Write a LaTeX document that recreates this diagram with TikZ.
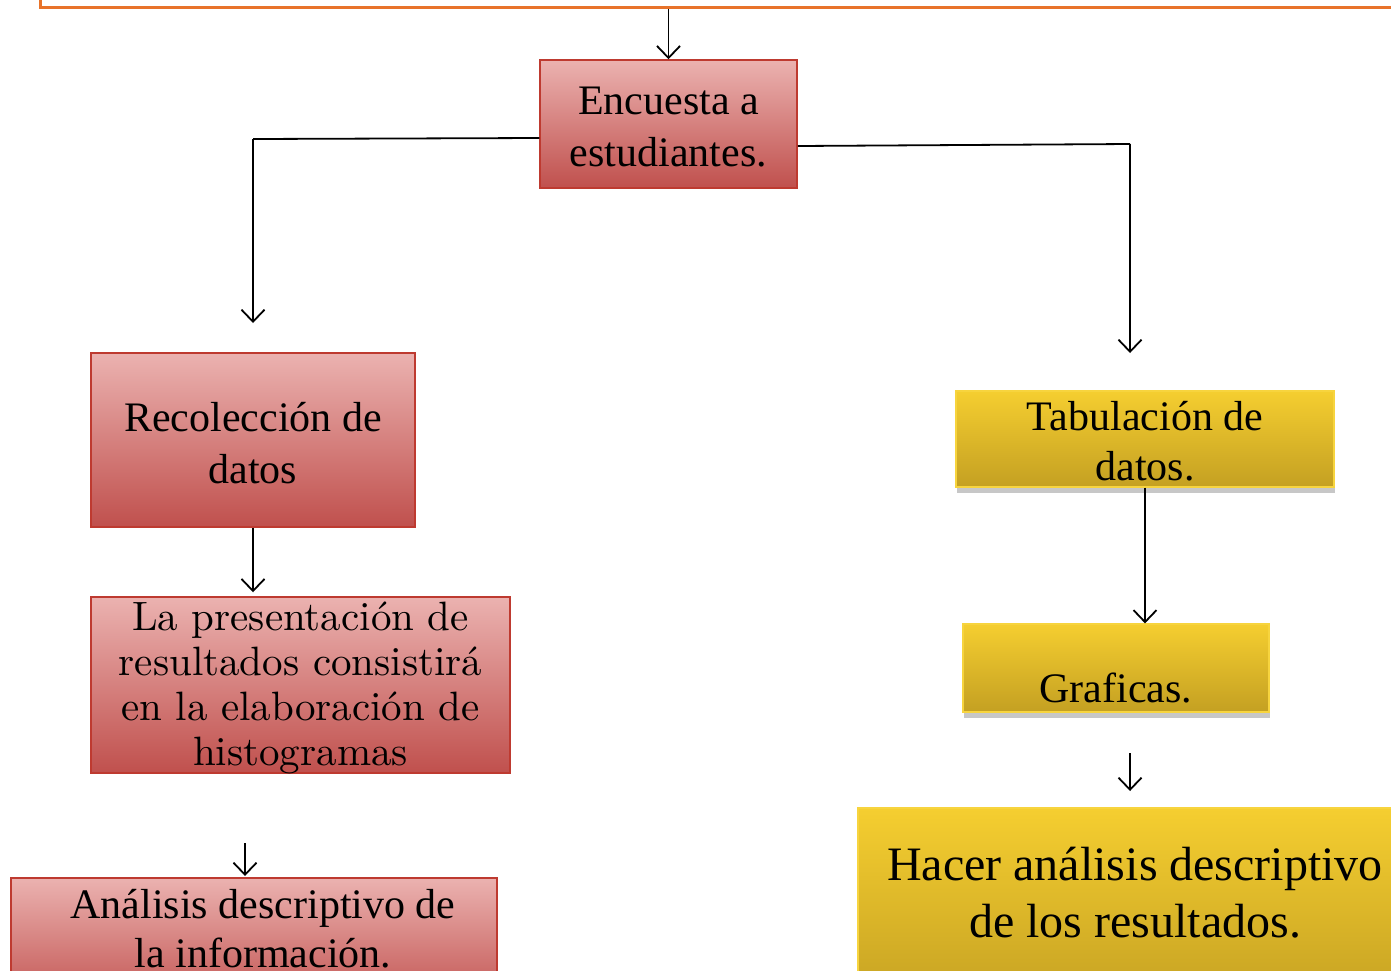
\documentclass[tikz,border=0pt]{standalone}
\usepackage{fontspec}
\newfontfamily\tnr{Liberation Serif}
\newfontfamily\lmten{lmroman10-regular.otf}
\usetikzlibrary{arrows.meta,shadows,calc}
\definecolor{redtop}{RGB}{235,178,176}
\definecolor{redbot}{RGB}{192,80,77}
\definecolor{redline}{RGB}{190,58,48}
\definecolor{goldtop}{RGB}{245,206,48}
\definecolor{goldbot}{RGB}{196,160,34}
\definecolor{goldline}{RGB}{247,212,62}
\definecolor{orangeline}{RGB}{232,115,42}
\tikzset{
  redbox/.style={rectangle, draw=redline, line width=1.5pt, top color=redtop, bottom color=redbot, inner sep=0pt},
  goldbox/.style={rectangle, draw=goldline, line width=1.2pt, top color=goldtop, bottom color=goldbot, inner sep=0pt,
     drop shadow={shadow xshift=1pt, shadow yshift=-6pt, fill=black, opacity=0.22}},
  txt/.style={align=center, inner sep=0pt, text=black},
  conn/.style={line width=1.8pt, -{Straight Barb[length=12pt,width=23pt]}},
  plain/.style={line width=1.8pt}
}
\begin{document}
\begin{tikzpicture}[x=1pt,y=-1pt]
\useasboundingbox (0,0) rectangle (1391,970);
\clip (0,0) rectangle (1391,970);
\fill[white] (0,0) rectangle (1391,970);
% boxes
\node[rectangle, draw=orangeline, line width=3pt, minimum width=1400pt, minimum height=80pt, inner sep=0pt] (top) at (740,-33) {};
\node[redbox, minimum width=257pt, minimum height=128pt] (enc) at (668.5,124) {};
\node[redbox, minimum width=324pt, minimum height=174pt] (rec) at (253,440) {};
\node[redbox, minimum width=419pt, minimum height=176pt] (pres) at (300.5,685) {};
\node[redbox, minimum width=486pt, minimum height=130pt] (ana) at (254,943) {};
\node[goldbox, minimum width=378pt, minimum height=96pt] (tab) at (1145,439) {};
\node[goldbox, minimum width=306pt, minimum height=88pt] (gra) at (1116,668) {};
\node[goldbox, minimum width=562pt, minimum height=200pt] (hac) at (1139,908) {};
% texts
\node[txt, font=\tnr\fontsize{42}{52}\selectfont] (encT) at (668.5,127) {Encuesta a\\estudiantes.};
\node[txt, font=\tnr\fontsize{42}{52}\selectfont] (recT) at (253,443) {Recolección de\\datos};
\node[txt, font=\lmten\fontsize{41}{45}\selectfont] (presT) at (300.5,688) {La presentación de\\resultados consistirá\\en la elaboración de\\histogramas};
\node[txt, font=\tnr\fontsize{42}{49}\selectfont] (anaT) at (263,929) {Análisis descriptivo de\\la información.};
\node[txt, font=\tnr\fontsize{42}{50}\selectfont] (tabT) at (1145,441) {Tabulación de\\datos.};
\node[txt, font=\tnr\fontsize{42}{50}\selectfont] (graT) at (1116,688) {Graficas.};
\node[txt, font=\tnr\fontsize{48}{57}\selectfont] (hacT) at (1135,893) {Hacer análisis descriptivo\\de los resultados.};
% free ends
\coordinate (lcorner) at (253,139);
\coordinate (lend) at (253,323);
\coordinate (rcorner) at (1130,144);
\coordinate (rend) at (1130,353);
\coordinate (a1s) at (245,843);
\coordinate (a1e) at (245,876);
\coordinate (a2s) at (1130,753);
\coordinate (a2e) at (1130,791);
% connectors
\draw[conn] (enc.north |- top.south) -- (enc.north);
\draw[plain] ($(enc.west)+(0,14)$) -- (lcorner);
\draw[conn] (lcorner) -- (lend);
\draw[plain] ($(enc.east)+(0,22)$) -- (rcorner);
\draw[conn] (rcorner) -- (rend);
\draw[conn] (rec.south) -- ($(rec.south |- pres.north)+(0,-4)$);
\draw[conn] (a1s) -- (a1e);
\draw[conn] (tab.south) -- (tab.south |- gra.north);
\draw[conn] (a2s) -- (a2e);
\end{tikzpicture}
\end{document}
